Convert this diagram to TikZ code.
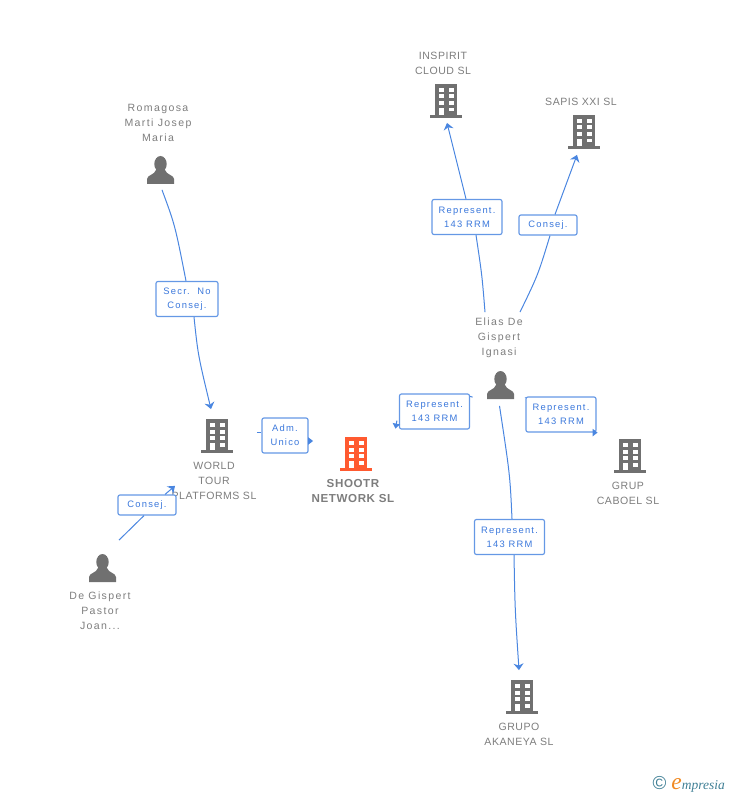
\documentclass[tikz,border=0pt]{standalone}
\usepackage{fontspec}
\setmainfont{Liberation Sans}
\newfontfamily\tagfont[LetterSpace=13]{Liberation Sans}
\newfontfamily\namefont[LetterSpace=5]{Liberation Sans}
\newfontfamily\personfont[LetterSpace=13]{Liberation Sans}
\newfontfamily\logofont{Liberation Serif}
\usepackage{xcolor}
\usetikzlibrary{arrows.meta,calc}
\definecolor{cLink}{HTML}{4A86E0}
\definecolor{cTagText}{HTML}{3B78DC}
\definecolor{cIcon}{HTML}{707070}
\definecolor{cName}{HTML}{7D7D7D}
\definecolor{cMain}{HTML}{FF5A30}
\definecolor{cLogo}{HTML}{3F7F95}
\definecolor{cLogoE}{HTML}{F08A24}
\tikzstyle{tsIcon} = [
    rectangle,
    inner sep=0pt,
    minimum size=1cm
]
\tikzstyle{tsName} = [
    text=cName,
    align=center,
    inner sep=0pt,
    font=\namefont\fontsize{9}{12.8}\selectfont
]
\tikzstyle{tsPersonName} = [
    tsName,
    font=\personfont\fontsize{9}{12.8}\selectfont
]
\tikzstyle{tsMainName} = [
    tsName,
    font=\namefont\bfseries\fontsize{9.9}{12.8}\selectfont
]
\tikzstyle{tsTag} = [
    rectangle,
    rounded corners=0.06cm,
    draw=cLink!85,
    fill=white,
    line width=0.35mm,
    text=cTagText,
    align=center,
    inner sep=0pt,
    minimum height=1.05cm,
    font=\tagfont\fontsize{8}{12}\selectfont
]
\tikzstyle{tsLine} = [
    draw=cLink,
    line width=0.3mm
]
\tikzstyle{tsArrow} = [
    tsLine,
    -{Stealth[length=2mm,width=3mm]}
]
\tikzstyle{tsNub} = [
    tsLine,
    -{Stealth[length=1.5mm,width=2.2mm,inset=0pt]}
]
\tikzset{
    pics/building/.style={
        code={
            \fill[#1] (-11,-17) rectangle (11,14);
            \fill[#1] (-16,14) rectangle (16,17);
            \fill[white] (-7,-13) rectangle (-2.5,-9);
            \fill[white] (3,-13) rectangle (7.5,-9);
            \fill[white] (-7,-6.5) rectangle (-2.5,-2.5);
            \fill[white] (3,-6.5) rectangle (7.5,-2.5);
            \fill[white] (-7,0) rectangle (-2.5,4);
            \fill[white] (3,0) rectangle (7.5,4);
            \fill[white] (-7,7) rectangle (-2.5,14);
            \fill[white] (3,7) rectangle (7.5,10.5);
        }
    },
    pics/person/.style={
        code={
            \fill[cIcon] (0,-6) ellipse (6.2 and 8);
            \fill[cIcon] (-13.5,14) -- (-13.5,9) .. controls (-13.5,5) and (-6,5) .. (-4.5,0)
                -- (4.5,0) .. controls (6,5) and (13.5,5) .. (13.5,9) -- (13.5,14) -- cycle;
        }
    }
}
\begin{document}
\begin{tikzpicture}[x=0.03cm, y=-0.03cm]

        \useasboundingbox (0,0) rectangle (728,795);

        % companies
        \node[tsIcon] (inspirit) at (446,101) {};
        \node[tsIcon] (sapis) at (584,132) {};
        \node[tsIcon] (worldtour) at (217,436) {};
        \node[tsIcon] (shootr) at (356,454) {};
        \node[tsIcon] (caboel) at (630,456) {};
        \node[tsIcon] (akaneya) at (522,697) {};
        \pic at (inspirit) {building=cIcon};
        \pic at (sapis) {building=cIcon};
        \pic at (worldtour) {building=cIcon};
        \pic at (shootr) {building=cMain};
        \pic at (caboel) {building=cIcon};
        \pic at (akaneya) {building=cIcon};

        % people
        \node[tsIcon] (romagosa) at (160.5,170) {};
        \node[tsIcon] (degispert) at (102.5,568) {};
        \node[tsIcon] (elias) at (500.5,385) {};
        \pic at (romagosa) {person};
        \pic at (degispert) {person};
        \pic at (elias) {person};

        % names
        \node[tsName] (inspiritName) at (443,63) {INSPIRIT\\CLOUD SL};
        \node[tsName] (sapisName) at (581,101.5) {SAPIS XXI SL};
        \node[tsName] (worldtourName) at (214,480.5) {WORLD\\TOUR\\PLATFORMS SL};
        \node[tsMainName] (shootrName) at (353,491) {SHOOTR\\NETWORK SL};
        \node[tsName] (caboelName) at (628,493) {GRUP\\CABOEL SL};
        \node[tsName] (akaneyaName) at (519,734) {GRUPO\\AKANEYA SL};
        \node[tsPersonName] (romagosaName) at (158,122.5) {Romagosa\\Marti Josep\\Maria};
        \node[tsPersonName] (degispertName) at (100,610.5) {De Gispert\\Pastor\\Joan...};
        \node[tsPersonName] (eliasName) at (499,338) {Elias De\\Gispert\\Ignasi};

        % role tags
        \node[tsTag, minimum width=1.86cm] (secr) at (187,299) {Secr.\ \ No\\Consej.};
        \node[tsTag, minimum width=1.74cm, minimum height=0.6cm] (consejWorld) at (147,505) {Consej.};
        \node[tsTag, minimum width=1.38cm] (adm) at (285,435.5) {Adm.\\Unico};
        \node[tsTag, minimum width=2.1cm] (repShootr) at (434.5,411.5) {Represent.\\143 RRM};
        \node[tsTag, minimum width=2.1cm] (repInspirit) at (467,217) {Represent.\\143 RRM};
        \node[tsTag, minimum width=1.74cm, minimum height=0.6cm] (consejSapis) at (548,225) {Consej.};
        \node[tsTag, minimum width=2.1cm] (repCaboel) at (561,414.5) {Represent.\\143 RRM};
        \node[tsTag, minimum width=2.1cm] (repAkaneya) at (509.5,537) {Represent.\\143 RRM};

        % connectors
        \draw[tsLine] ($(romagosa.south)+(1.5,3)$) .. controls (175,225) .. ($(secr.north)+(-1,0)$);
        \draw[tsArrow] ($(secr.south)+(7,0)$) .. controls (198,355) .. ($(worldtour.north)+(-6,-10)$);

        \draw[tsLine] ($(degispert.north)+(16.5,-11)$) -- ($(consejWorld.south)+(-3,0)$);
        \draw[tsArrow] ($(consejWorld.north)+(18,0)$) -- ($(worldtour.south)+(-42,33)$);

        \draw[tsLine] ($(worldtour.east)+(23,-4)$) -- ($(adm.west)+(0,-3.5)$);
        \draw[tsNub] ($(adm.east)+(0,5.5)$) -- ($(adm.east)+(4.5,5.5)$);

        \draw[tsLine] ($(elias.north west)+(-11,29)$) -- ($(repShootr.north east)+(0,3)$);
        \draw[tsNub] ($(repShootr.south west)+(-2,-9)$) -- ($(repShootr.south west)+(-3.5,-1)$);

        \draw[tsLine] ($(elias.north)+(-15.5,-56)$) .. controls (482,275) .. ($(repInspirit.south)+(9,0)$);
        \draw[tsArrow] ($(repInspirit.north)+(-1,0)$) -- ($(inspirit.south)+(1,5)$);

        \draw[tsLine] ($(elias.north)+(19.5,-56)$) .. controls (538,275) .. ($(consejSapis.south)+(2,0)$);
        \draw[tsArrow] ($(consejSapis.north)+(7,0)$) -- ($(sapis.south)+(-7,6)$);

        \draw[tsLine] ($(elias.north east)+(8,30)$) -- ($(repCaboel.north west)+(0,1)$);
        \draw[tsNub] ($(repCaboel.south east)+(-3,0)$) -- ($(repCaboel.south east)+(1,0)$);

        \draw[tsLine] ($(elias.south)+(-1,4)$) .. controls (510,475) .. ($(repAkaneya.north)+(2.5,0)$);
        \draw[tsArrow] ($(repAkaneya.south)+(4.5,0)$) .. controls (515,610) .. ($(akaneya.north)+(-3,-10)$);

        % logo
        \node[inner sep=0pt, anchor=east] (logo) at (725,784) {\logofont\fontsize{11.5}{12}\selectfont
            \textcolor{cLogo}{\fontspec{Liberation Sans}\fontsize{16}{12}\selectfont©}\hspace{0.15cm}\textcolor{cLogoE}{\itshape\fontsize{20}{12}\selectfont e}\textcolor{cLogo}{\itshape mpresia}};

    \end{tikzpicture}
\end{document}
